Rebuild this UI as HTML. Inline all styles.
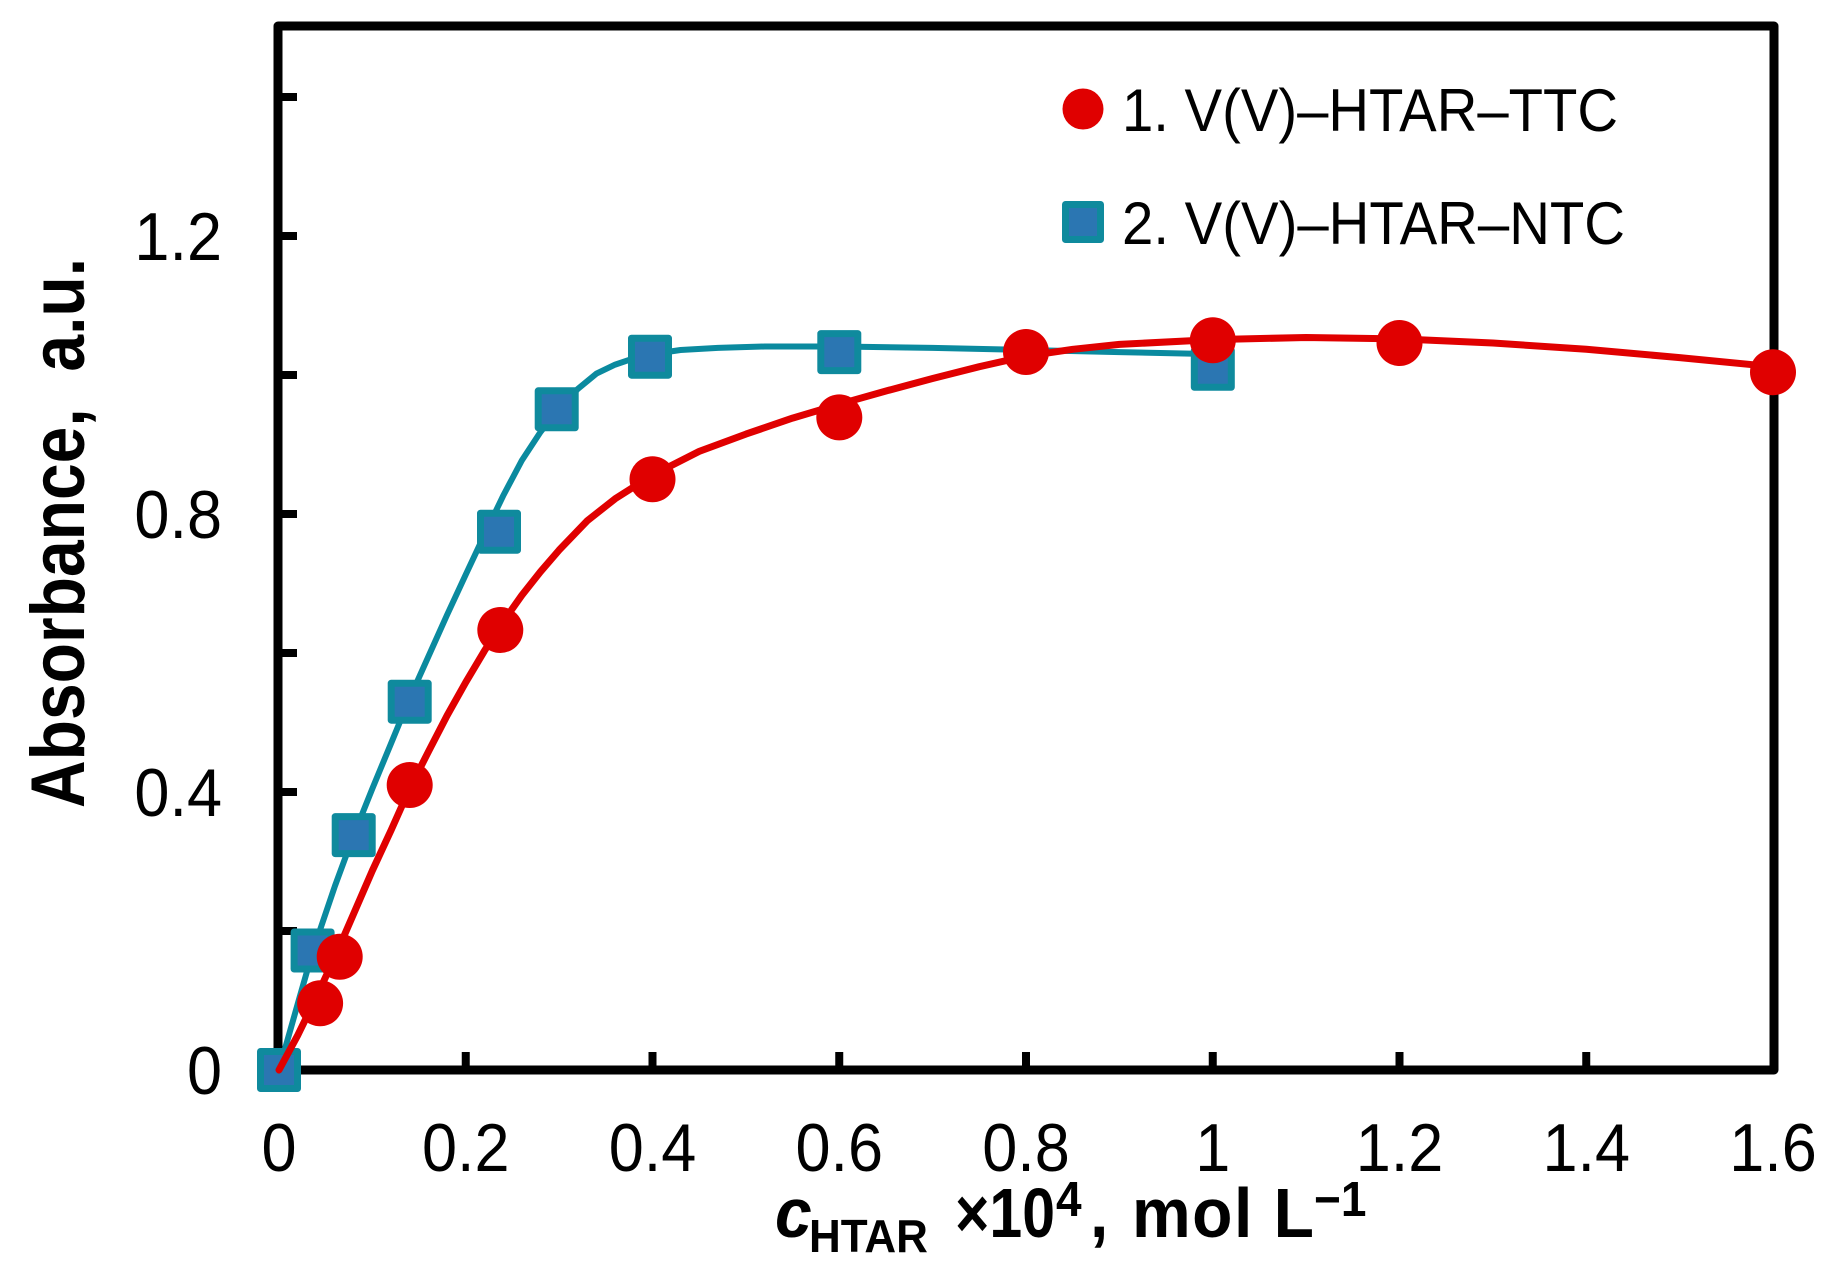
<!DOCTYPE html>
<html>
<head>
<meta charset="utf-8">
<style>
html,body{margin:0;padding:0;background:#fff;}
svg{display:block;}
text{font-family:"Liberation Sans",Arial,sans-serif;fill:#000;}
</style>
</head>
<body>
<svg width="1829" height="1286" viewBox="0 0 1829 1286" xmlns="http://www.w3.org/2000/svg">
<rect x="0" y="0" width="1829" height="1286" fill="#fff"/>

<!-- ticks y -->
<g stroke="#000" stroke-width="8">
<line x1="278" y1="931" x2="297" y2="931"/>
<line x1="278" y1="792" x2="297" y2="792"/>
<line x1="278" y1="653" x2="297" y2="653"/>
<line x1="278" y1="514" x2="297" y2="514"/>
<line x1="278" y1="375" x2="297" y2="375"/>
<line x1="278" y1="236" x2="297" y2="236"/>
<line x1="278" y1="97" x2="297" y2="97"/>
<!-- ticks x -->
<line x1="465.75" y1="1070" x2="465.75" y2="1052"/>
<line x1="652.5" y1="1070" x2="652.5" y2="1052"/>
<line x1="839.25" y1="1070" x2="839.25" y2="1052"/>
<line x1="1026" y1="1070" x2="1026" y2="1052"/>
<line x1="1212.75" y1="1070" x2="1212.75" y2="1052"/>
<line x1="1399.5" y1="1070" x2="1399.5" y2="1052"/>
<line x1="1586.25" y1="1070" x2="1586.25" y2="1052"/>
</g>

<!-- frame -->
<rect x="278" y="26" width="1496" height="1044" fill="none" stroke="#000" stroke-width="9" stroke-linejoin="round"/>

<!-- teal curve -->
<polyline fill="none" stroke="#0a8a9f" stroke-width="6" stroke-linejoin="round" stroke-linecap="round"
points="279,1070 297.7,1004 312.6,951.8 335,885.8 353.7,835.1 372.4,788.5 391.1,743.3 409.7,698.2 428.4,656.5 447.1,614.8 465.8,574.5 484.4,534.8 503.1,495.9 521.8,460.5 540.5,432 559.1,408.4 577.8,388.9 596.5,373.6 615.2,364.6 633.8,358.3 652.5,354.1 680.5,350 717.9,347.9 764.6,346.5 839.3,346.5 932.6,347.9 1026,350 1119.4,352.1 1212.8,354.1"/>

<!-- teal squares -->
<g fill="#2b76b2" stroke="#0f8a9d" stroke-width="7" stroke-linejoin="round">
<rect x="260.5" y="1051.5" width="37" height="37"/>
<rect x="294.1" y="932" width="37" height="37"/>
<rect x="335.2" y="816.6" width="37" height="37"/>
<rect x="391.2" y="683.2" width="37" height="37"/>
<rect x="480.5" y="513.2" width="37" height="37"/>
<rect x="538.2" y="390.8" width="37" height="37"/>
<rect x="631.5" y="338.2" width="37" height="37"/>
<rect x="820.8" y="333.6" width="37" height="37"/>
<rect x="1194.3" y="350.3" width="37" height="37"/>
</g>

<!-- red curve -->
<polyline fill="none" stroke="#e00000" stroke-width="7" stroke-linejoin="round" stroke-linecap="round"
points="279,1070 297.7,1035.3 316.4,997 335,956.7 353.7,913.6 372.4,870.5 391.1,830.2 409.7,788.5 428.4,751.7 447.1,715.5 465.8,682.2 484.4,650.9 503.1,621.7 521.8,595.3 540.5,571.7 559.1,550.1 587.1,520.9 615.2,498.7 652.5,475.1 699.2,451.4 745.9,434.1 792.6,418.1 839.3,404.2 886,391 932.6,378.5 979.3,366.7 1026,356.2 1072.7,349.3 1119.4,344.4 1212.8,339.6 1306.1,337.5 1399.5,338.9 1492.9,343 1586.3,349.3 1679.6,357.6 1773,366.7"/>

<!-- red circles -->
<g fill="#e00000">
<circle cx="320.1" cy="1003.3" r="23"/>
<circle cx="339.7" cy="956.7" r="23"/>
<circle cx="409.7" cy="785" r="23"/>
<circle cx="500.3" cy="630" r="23"/>
<circle cx="652.5" cy="479.3" r="23"/>
<circle cx="839.3" cy="417.4" r="23"/>
<circle cx="1026" cy="352" r="23"/>
<circle cx="1212.8" cy="340.3" r="23"/>
<circle cx="1399.5" cy="343" r="23"/>
<circle cx="1773" cy="372.2" r="23"/>
</g>

<!-- y tick labels -->
<g font-size="63" text-anchor="end">
<text transform="translate(222,1094) scale(1,1.07)">0</text>
<text transform="translate(222,816) scale(1,1.07)">0.4</text>
<text transform="translate(222,538) scale(1,1.07)">0.8</text>
<text transform="translate(222,260) scale(1,1.07)">1.2</text>
</g>

<!-- x tick labels -->
<g font-size="63" text-anchor="middle">
<text transform="translate(279,1171) scale(1,1.07)">0</text>
<text transform="translate(465.75,1171) scale(1,1.07)">0.2</text>
<text transform="translate(652.5,1171) scale(1,1.07)">0.4</text>
<text transform="translate(839.25,1171) scale(1,1.07)">0.6</text>
<text transform="translate(1026,1171) scale(1,1.07)">0.8</text>
<text transform="translate(1212.75,1171) scale(1,1.07)">1</text>
<text transform="translate(1399.5,1171) scale(1,1.07)">1.2</text>
<text transform="translate(1586.25,1171) scale(1,1.07)">1.4</text>
<text transform="translate(1773,1171) scale(1,1.07)">1.6</text>
</g>

<!-- y axis title -->
<text transform="translate(84,808) rotate(-90) scale(1,1.15)" font-size="66" font-weight="bold">Absorbance,&#160;&#160;a.u.</text>

<!-- x axis title -->
<g transform="translate(0,1237) scale(1,1.06) translate(0,-1237)" font-weight="bold">
<text x="775" y="1237" font-size="66" font-style="italic">c</text>
<text x="809" y="1251" font-size="44">HTAR</text>
<text x="955" y="1237" font-size="66" textLength="100" lengthAdjust="spacingAndGlyphs">×10</text>
<text x="1056" y="1217" font-size="46">4</text>
<text x="1090" y="1237" font-size="66">,</text>
<text x="1132" y="1237" font-size="66" textLength="182" lengthAdjust="spacing">mol L</text>
<text x="1314" y="1217" font-size="46">−1</text>
</g>

<!-- legend -->
<circle cx="1083" cy="109" r="20.5" fill="#e00000"/>
<rect x="1065.5" y="204.5" width="35" height="35" fill="#2b76b2" stroke="#0f8a9d" stroke-width="7" stroke-linejoin="round"/>
<text transform="translate(1122,131) scale(1,1.07)" font-size="56" textLength="496" lengthAdjust="spacingAndGlyphs">1. V(V)–HTAR–TTC</text>
<text transform="translate(1122,244) scale(1,1.07)" font-size="56" textLength="503" lengthAdjust="spacingAndGlyphs">2. V(V)–HTAR–NTC</text>
</svg>
</body>
</html>
